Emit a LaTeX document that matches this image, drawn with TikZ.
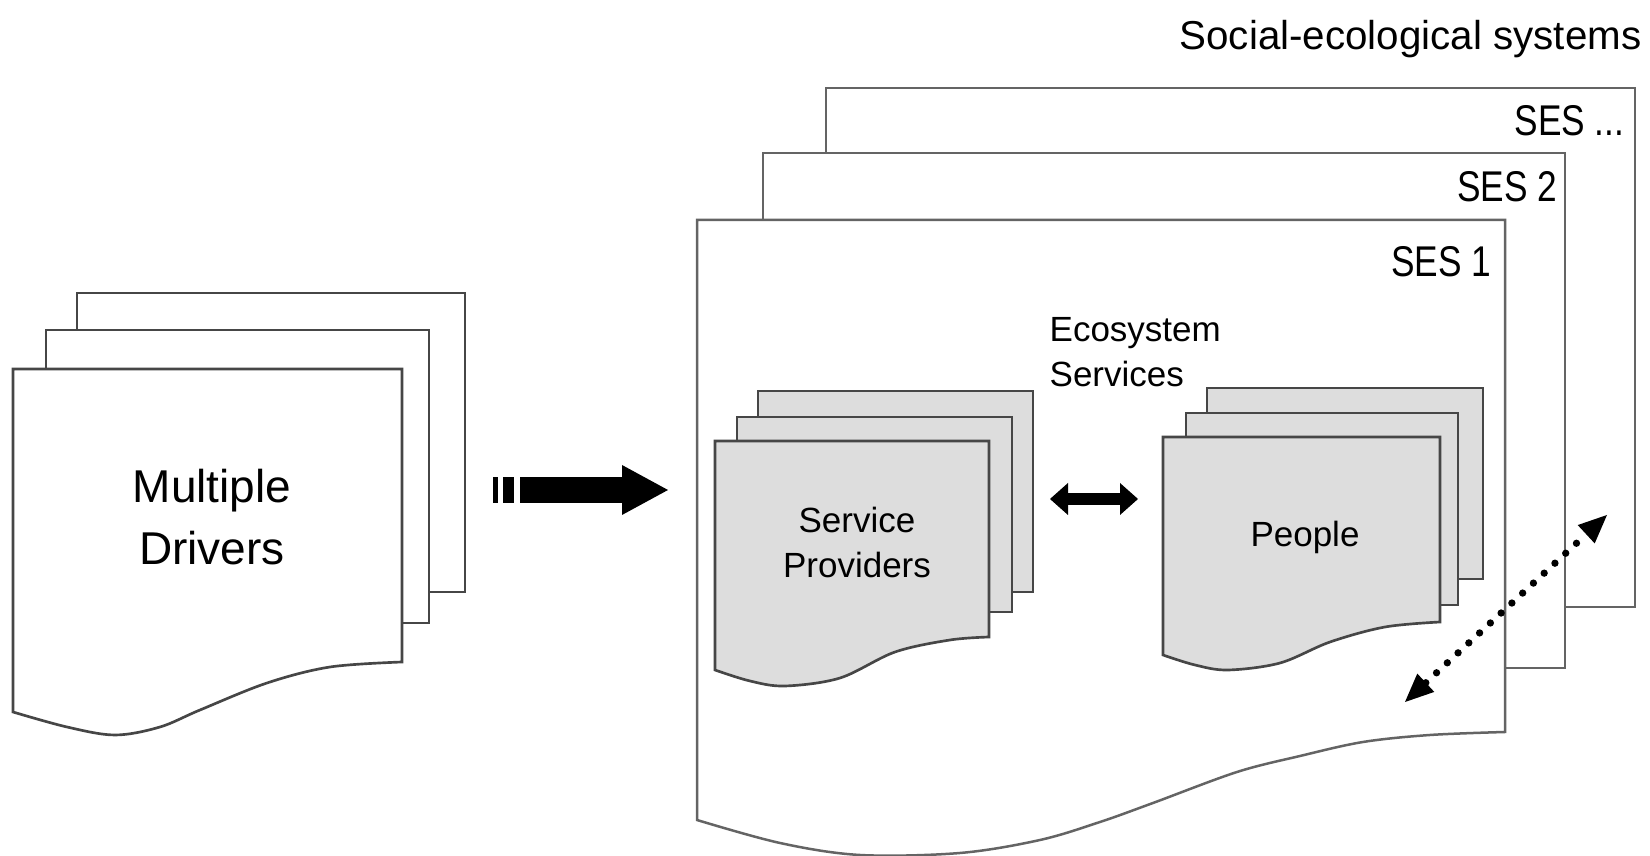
\documentclass[tikz,border=0pt]{standalone}
\usepackage{fontspec}
\usepackage{graphicx}
\setmainfont{Liberation Sans}
\usetikzlibrary{arrows.meta}

\definecolor{edgegray}{RGB}{70,70,70}
\definecolor{lightedge}{RGB}{100,100,100}
\definecolor{paperfill}{RGB}{221,221,221}

\tikzset{
  sheet/.style={draw=edgegray, line width=0.8pt, fill=white, line join=miter},
  sessheet/.style={sheet, draw=lightedge, line width=0.75pt},
  shaded/.style={sheet, fill=paperfill},
  wave/.style={smooth, tension=0.55},
  txt/.style={inner sep=0pt, text=black},
  body/.style={txt, font=\fontsize{10.5}{13.5}\selectfont},
  seslabel/.style={txt, anchor=base east, font=\fontsize{12.9}{15}\selectfont},
  flow/.style={line width=7.8pt, -{Triangle[length=13.8pt, width=15pt, line width=0pt]}},
  exchange/.style={line width=3.6pt,
    {Triangle[length=5.4pt, width=9.6pt, line width=0pt]}-{Triangle[length=5.4pt, width=9.6pt, line width=0pt]}},
  feedback/.style={line width=2.2pt, line cap=round, dash pattern=on 0pt off 4.4pt,
    {Triangle[length=8.5pt, width=7.5pt, line width=0pt]}-{Triangle[length=8.5pt, width=7.5pt, line width=0pt]}}
}

\begin{document}
\begin{tikzpicture}[x=0.3pt, y=-0.3pt]
\useasboundingbox (0,0) rectangle (1650,856);

% ---- stack of driver documents ----
\draw[sheet] (77,293) rectangle (465,592);
\draw[sheet] (46,330) rectangle (429,623);
\draw[sheet] (13,369) -- (402,369) -- (402,662)
  -- plot[wave] coordinates {(402,662) (330,667) (267,683) (200,710) (160,727) (115,735) (67,727) (13,712)}
  -- cycle;
% multi-line nodes sit on the baseline of their last line
\node[txt, font=\fontsize{13.8}{18.6}\selectfont, align=center, anchor=base] (drivers) at (212,565) {Multiple\\Drivers};

% ---- stack of social-ecological systems ----
\draw[sessheet] (826,88) rectangle (1635,607);
\draw[sessheet] (763,153) rectangle (1565,668);
\draw[sessheet] (697,220) -- (1505,220) -- (1505,732)
  -- plot[wave] coordinates {(1505,732) (1430,735) (1363,742) (1300,756) (1237,772) (1153,803) (1100,822) (1040,840) (960,853) (860,855) (780,843) (697,820)}
  -- cycle;

\node[txt, anchor=base east, font=\fontsize{12.1}{14}\selectfont] (title) at (1642,50) {Social-ecological systems};
\node[seslabel] (sesn) at (1625,136) {\scalebox{0.82}[1]{SES ...}};
\node[seslabel] (ses2) at (1558,202) {\scalebox{0.82}[1]{SES 2}};
\node[seslabel] (ses1) at (1492,277) {\scalebox{0.82}[1]{SES 1}};

% ---- stack of service providers ----
\draw[shaded] (758,391) rectangle (1033,592);
\draw[shaded] (737,417) rectangle (1012,612);
\draw[shaded] (715,441) -- (989,441) -- (989,637)
  -- plot[wave] coordinates {(989,637) (950,640) (895,652) (840,678) (785,686) (750,681) (715,670)}
  -- cycle;
\node[body, align=center, anchor=base] (providers) at (857,578) {Service\\Providers};

% ---- stack of people ----
\draw[shaded] (1207,388) rectangle (1483,579);
\draw[shaded] (1186,413) rectangle (1458,605);
\draw[shaded] (1163,437) -- (1440,437) -- (1440,622)
  -- plot[wave] coordinates {(1440,622) (1385,627) (1330,642) (1280,663) (1228,670) (1195,665) (1163,655)}
  -- cycle;
\node[body, anchor=base] (people) at (1305,547) {People};

\node[body, align=left, anchor=base west] (ecoserv) at (1049,387) {Ecosystem\\Services};

% ---- connectors ----
\coordinate (flowstart) at (520,490);
\coordinate (flowend) at (668,490);
\fill (493,477) rectangle (498,503);
\fill (503,477) rectangle (514,503);
\draw[flow] (flowstart) -- (flowend);

\coordinate (exL) at (1050,499);
\coordinate (exR) at (1138,499);
\draw[exchange] (exL) -- (exR);

\coordinate (fbL) at (1405,702);
\coordinate (fbR) at (1607,515);
\draw[feedback] (fbL) -- (fbR);
\end{tikzpicture}
\end{document}
